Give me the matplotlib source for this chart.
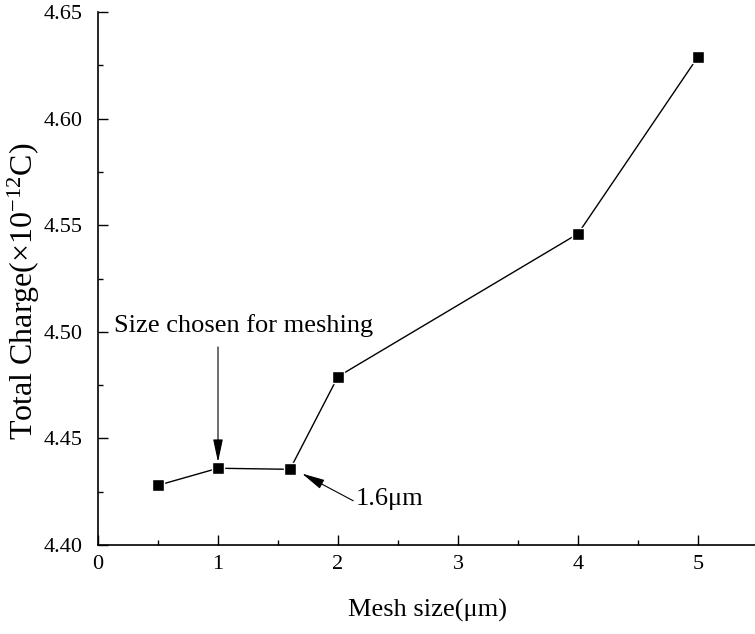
import matplotlib
matplotlib.use("Agg")
import matplotlib.pyplot as plt
from matplotlib.ticker import MultipleLocator

plt.rcParams.update({
    "font.family": "Liberation Serif",
    "mathtext.fontset": "custom",
    "mathtext.rm": "Liberation Serif",
    "mathtext.it": "Liberation Serif:italic",
})

# data
mesh_size = [0.5, 1.0, 1.6, 2.0, 4.0, 5.0]
total_charge = [4.428, 4.436, 4.4355, 4.479, 4.546, 4.629]

x_ticks = [0, 1, 2, 3, 4, 5]
y_ticks = [4.40, 4.45, 4.50, 4.55, 4.60, 4.65]

fig = plt.figure(figsize=(7.55, 6.34), dpi=100)
ax = fig.add_axes([98 / 755, 89 / 634, 660 / 755, 533 / 634])

ax.plot(mesh_size, total_charge, color="black", lw=1.0, marker="s",
        ms=9, mfc="black", mec="white", mew=1.0)

ax.set_xlim(0, 5.5)
ax.set_ylim(4.40, 4.65)
ax.set_xticks(x_ticks)
ax.set_yticks(y_ticks)
ax.set_yticklabels([f"{v:.2f}" for v in y_ticks])
ax.xaxis.set_minor_locator(MultipleLocator(0.5))
ax.yaxis.set_minor_locator(MultipleLocator(0.025))

ax.spines["top"].set_visible(False)
ax.spines["right"].set_visible(False)
for s in ["left", "bottom"]:
    ax.spines[s].set_linewidth(1.2)

ax.tick_params(axis="both", which="major", direction="in", length=7, width=1.0, labelsize=16)
ax.tick_params(axis="both", which="minor", direction="in", length=3.5, width=1.0)
ax.tick_params(axis="y", which="major", pad=11)
ax.tick_params(axis="x", which="major", pad=7)

ax.set_xlabel("Mesh size(μm)", fontsize=19, labelpad=18)
ax.set_ylabel("Total Charge(×10$^{-12}$C)", fontsize=23)
ax.yaxis.set_label_coords(-0.085, 0.475)

# annotations
arrow = dict(arrowstyle="-|>,head_length=1.4,head_width=0.3", color="black",
             lw=0.8, shrinkA=0, shrinkB=0, mutation_scale=10)
ax.text(0.133, 4.4999, "Size chosen for meshing", fontsize=19, ha="left", va="baseline")
ax.annotate("", xy=(mesh_size[1], 4.4389), xytext=(mesh_size[1], 4.4929), arrowprops=arrow)
ax.annotate("1.6μm", xy=(mesh_size[2] + 0.1, total_charge[2] - 0.002),
            xytext=(2.15, 4.4188), fontsize=19, ha="left", va="baseline",
            arrowprops=dict(arrow, relpos=(0, 0.35)))

fig.savefig("out.png", dpi=100)
